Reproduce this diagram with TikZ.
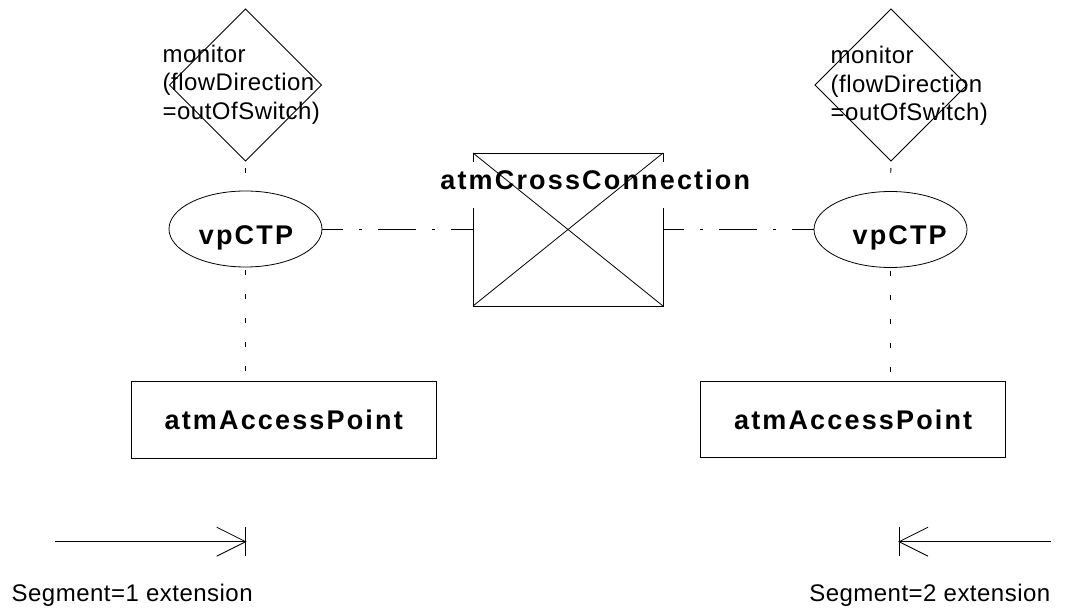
\documentclass[tikz,border=0pt]{standalone}
\usepackage{fontspec}
\setmainfont{Liberation Sans}
\newfontfamily\plainlab[LetterSpace=2]{Liberation Sans}
\newfontfamily\boldlab[LetterSpace=8]{Liberation Sans Bold}
\usetikzlibrary{shapes.geometric}

\tikzset{
  every node/.style={inner sep=0pt, outer sep=0pt},
  small/.style={font=\plainlab\fontsize{24}{28.5}\selectfont},
  big/.style={font=\boldlab\fontsize{27}{30}\selectfont},
  attr/.style={diamond, draw, minimum width=152, minimum height=152},
  endpoint/.style={ellipse, draw, minimum width=153, minimum height=76},
  objbox/.style={rectangle, draw, big},
  dashdot/.style={dash pattern=on 38pt off 16pt on 3pt off 16pt, dash phase=17pt},
  dotsup/.style={dash pattern=on 5pt off 19pt, dash phase=17pt},
  dotsdown/.style={dash pattern=on 5pt off 19pt, dash phase=20.5pt},
}

\begin{document}
\begin{tikzpicture}[x=1pt, y=1pt, line width=0.8pt]
\useasboundingbox (0,0) rectangle (1066,-612);

% ---- left termination point ----
\node[attr] (dl) at (245.5,-85) {};
\node[small, anchor=base west, align=left] (ml) at (162.7,-119.5)
  {monitor\\(flowDirection\\=outOfSwitch)};
\node[endpoint] (el) at (245.5,-229) {};
\node[big, anchor=base] (tl) at (246,-244.3) {vpCTP};
\node[objbox, minimum width=304.5, minimum height=76.6] (rl) at (283.75,-420) {atmAccessPoint};

% ---- right termination point ----
\node[attr] (dr) at (891,-85) {};
\node[small, anchor=base west, align=left] (mr) at (830.7,-120.7)
  {monitor\\(flowDirection\\=outOfSwitch)};
\node[endpoint] (er) at (890.5,-229.5) {};
\node[big, anchor=base] (tr) at (899.7,-244.3) {vpCTP};
\node[objbox, minimum width=305, minimum height=76] (rr) at (853.2,-419.7) {atmAccessPoint};

% ---- cross connection ----
\node[rectangle, draw, minimum width=190, minimum height=153] (cx) at (568,-229.5) {};
\node[big, fill=white, anchor=base, text height=27.3, text depth=18.7, inner xsep=1pt]
  (cxl) at (595.3,-189.3) {atmCrossConnection};
\draw (cx.north west) -- (cx.south east);
\draw (cx.south west) -- (cx.north east);

% ---- relations ----
\draw[dotsup] (dl.south) -- (el.north);
\draw[dotsdown] (el.south) -- (el.south |- rl.north);
\draw[dotsup] (dr.south) -- (er.north);
\draw[dotsdown] (er.south) -- (er.south |- rr.north);
\draw[dashdot] (el.east) -- (cx.west |- el.east);
\draw[dashdot] (cx.east |- er.west) -- (er.west);

% ---- segment extensions ----
\coordinate (s1a) at (55,-541.7);
\coordinate (s1b) at (245.7,-541.7);
\draw (s1a) -- (s1b);
\draw ([yshift=14.3]s1b) -- ([yshift=-14.3]s1b);
\draw ([shift={(-29,14.5)}]s1b) -- (s1b) -- ([shift={(-29,-14.5)}]s1b);
\node[small, anchor=base west] (seg1) at (11.7,-601.7) {Segment=1 extension};

\coordinate (s2a) at (1051,-541.7);
\coordinate (s2b) at (899,-541.7);
\draw (s2a) -- (s2b);
\draw ([yshift=14.3]s2b) -- ([yshift=-14.3]s2b);
\draw ([shift={(29,14.5)}]s2b) -- (s2b) -- ([shift={(29,-14.5)}]s2b);
\node[small, anchor=base west] (seg2) at (809.3,-601.7) {Segment=2 extension};
\end{tikzpicture}
\end{document}
